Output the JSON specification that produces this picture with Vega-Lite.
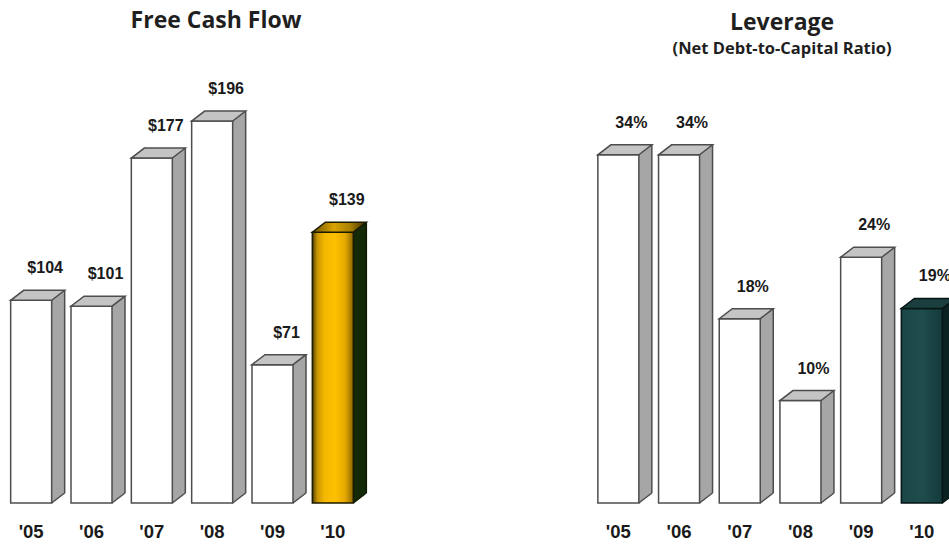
{
  "$schema": "https://vega.github.io/schema/vega-lite/v6.json",
  "background": "#ffffff",
  "padding": {"left": 1, "top": 10, "right": 0, "bottom": 0},
  "spacing": 218,
  "config": {
    "view": {"stroke": null},
    "title": {"font": "Open Sans", "fontWeight": "bold", "fontSize": 23, "color": "#1f1f1f", "anchor": "middle", "subtitleFont": "Open Sans", "subtitleFontWeight": "bold", "subtitleFontSize": 16.5, "subtitleColor": "#1f1f1f"},
    "axis": {"title": null, "domain": false, "ticks": false, "tickSize": 0, "labelPadding": 19, "labelFont": "Liberation Sans", "labelFontSize": 18.5, "labelFontWeight": "bold", "labelColor": "#1a1a1a", "labelAngle": 0}
  },
  "datasets": {
    "fcf": [
      {"year": "'05", "value": 104},
      {"year": "'06", "value": 101},
      {"year": "'07", "value": 177},
      {"year": "'08", "value": 196},
      {"year": "'09", "value": 71},
      {"year": "'10", "value": 139}
    ],
    "lev": [
      {"year": "'05", "value": 0.34},
      {"year": "'06", "value": 0.34},
      {"year": "'07", "value": 0.18},
      {"year": "'08", "value": 0.10},
      {"year": "'09", "value": 0.24},
      {"year": "'10", "value": 0.19}
    ]
  },
  "hconcat": [
    {
      "width": 362,
      "height": 441,
      "title": {"text": "Free Cash Flow", "dx": 34, "offset": 29},
      "data": {"name": "fcf"},
      "encoding": {
        "x": {"field": "year", "type": "ordinal", "sort": null, "scale": {"paddingInner": 0, "paddingOuter": 0}},
        "y": {"field": "value", "type": "quantitative", "scale": {"domain": [0, 226.3], "nice": false}, "axis": null}
      },
      "layer": [
        {
          "mark": {"type": "bar", "width": 13, "xOffset": 27, "yOffset": -10, "y2Offset": -10},
          "encoding": {
            "y2": {"datum": 0},
            "fill": {"condition": {"test": "datum.year == \"'10\"", "value": "#142a07"}, "value": "#a6a6a6"}
          }
        },
        {
          "mark": {"type": "rule", "xOffset": 33.5, "yOffset": -10, "y2Offset": -10, "strokeWidth": 1.5},
          "encoding": {
            "y2": {"datum": 0},
            "stroke": {"condition": {"test": "datum.year == \"'10\"", "value": "#0d1a00"}, "value": "#4d4d4d"}
          }
        },
        {
          "mark": {"type": "point", "shape": "M 20.5 -10 L 33.5 -10 L 20.5 0 Z", "size": 4, "filled": true, "opacity": 1, "strokeWidth": 0},
          "encoding": {
            "y": {"datum": 0},
            "fill": {"condition": {"test": "datum.year == \"'10\"", "value": "#142a07"}, "value": "#a6a6a6"}
          }
        },
        {
          "mark": {"type": "point", "shape": "M 20.5 0 L 33.5 -10", "size": 4, "filled": false, "opacity": 1, "strokeWidth": 1.5},
          "encoding": {
            "y": {"datum": 0},
            "stroke": {"condition": {"test": "datum.year == \"'10\"", "value": "#0d1a00"}, "value": "#4d4d4d"}
          }
        },
        {
          "mark": {"type": "bar", "width": 41, "strokeWidth": 1.5},
          "encoding": {
            "y2": {"datum": 0},
            "fill": {"condition": {"test": "datum.year == \"'10\"", "value": {"gradient": "linear", "x1": 0, "x2": 1, "y1": 0, "y2": 0, "stops": [{"offset": 0, "color": "#4d3d00"}, {"offset": 0.12, "color": "#c89500"}, {"offset": 0.3, "color": "#f5b800"}, {"offset": 0.55, "color": "#ffc000"}, {"offset": 0.8, "color": "#e5a900"}, {"offset": 1, "color": "#8a6800"}]}}, "value": "#ffffff"},
            "stroke": {"condition": {"test": "datum.year == \"'10\"", "value": "#1a1a00"}, "value": "#4d4d4d"}
          }
        },
        {
          "mark": {"type": "point", "shape": "M -20.5 0 L 20.5 0 L 33.5 -10 L -7.5 -10 Z", "size": 4, "filled": true, "opacity": 1, "strokeWidth": 1.5},
          "encoding": {
            "fill": {"condition": {"test": "datum.year == \"'10\"", "value": {"gradient": "linear", "x1": 0, "x2": 1, "y1": 0, "y2": 0, "stops": [{"offset": 0, "color": "#6b5400"}, {"offset": 0.4, "color": "#d9a300"}, {"offset": 0.7, "color": "#a88000"}, {"offset": 1, "color": "#3d3000"}]}}, "value": "#c4c4c4"},
            "stroke": {"condition": {"test": "datum.year == \"'10\"", "value": "#1a1a00"}, "value": "#4d4d4d"}
          }
        },
        {
          "mark": {"type": "text", "dx": 14, "dy": -32, "baseline": "middle", "font": "Liberation Sans", "fontSize": 16, "fontWeight": "bold", "color": "#1a1a1a"},
          "encoding": {
            "text": {"field": "value", "type": "quantitative", "format": "$.0f"}
          }
        }
      ]
    },
    {
      "width": 364.2,
      "height": 441,
      "title": {"text": "Leverage", "subtitle": "(Net Debt-to-Capital Ratio)", "dx": 12, "offset": 5, "subtitlePadding": 6},
      "data": {"name": "lev"},
      "encoding": {
        "x": {"field": "year", "type": "ordinal", "sort": null, "scale": {"paddingInner": 0, "paddingOuter": 0}},
        "y": {"field": "value", "type": "quantitative", "scale": {"domain": [0, 0.4307], "nice": false}, "axis": null}
      },
      "layer": [
        {
          "mark": {"type": "bar", "width": 13, "xOffset": 27, "yOffset": -10, "y2Offset": -10},
          "encoding": {
            "y2": {"datum": 0},
            "fill": {"condition": {"test": "datum.year == \"'10\"", "value": "#0b2222"}, "value": "#a6a6a6"}
          }
        },
        {
          "mark": {"type": "rule", "xOffset": 33.5, "yOffset": -10, "y2Offset": -10, "strokeWidth": 1.5},
          "encoding": {
            "y2": {"datum": 0},
            "stroke": {"condition": {"test": "datum.year == \"'10\"", "value": "#061414"}, "value": "#4d4d4d"}
          }
        },
        {
          "mark": {"type": "point", "shape": "M 20.5 -10 L 33.5 -10 L 20.5 0 Z", "size": 4, "filled": true, "opacity": 1, "strokeWidth": 0},
          "encoding": {
            "y": {"datum": 0},
            "fill": {"condition": {"test": "datum.year == \"'10\"", "value": "#0b2222"}, "value": "#a6a6a6"}
          }
        },
        {
          "mark": {"type": "point", "shape": "M 20.5 0 L 33.5 -10", "size": 4, "filled": false, "opacity": 1, "strokeWidth": 1.5},
          "encoding": {
            "y": {"datum": 0},
            "stroke": {"condition": {"test": "datum.year == \"'10\"", "value": "#061414"}, "value": "#4d4d4d"}
          }
        },
        {
          "mark": {"type": "bar", "width": 41, "strokeWidth": 1.5},
          "encoding": {
            "y2": {"datum": 0},
            "fill": {"condition": {"test": "datum.year == \"'10\"", "value": {"gradient": "linear", "x1": 0, "x2": 1, "y1": 0, "y2": 0, "stops": [{"offset": 0, "color": "#1a4646"}, {"offset": 0.5, "color": "#1f4d4d"}, {"offset": 1, "color": "#143a3a"}]}}, "value": "#ffffff"},
            "stroke": {"condition": {"test": "datum.year == \"'10\"", "value": "#061414"}, "value": "#4d4d4d"}
          }
        },
        {
          "mark": {"type": "point", "shape": "M -20.5 0 L 20.5 0 L 33.5 -10 L -7.5 -10 Z", "size": 4, "filled": true, "opacity": 1, "strokeWidth": 1.5},
          "encoding": {
            "fill": {"condition": {"test": "datum.year == \"'10\"", "value": "#1b3f3f"}, "value": "#c4c4c4"},
            "stroke": {"condition": {"test": "datum.year == \"'10\"", "value": "#061414"}, "value": "#4d4d4d"}
          }
        },
        {
          "mark": {"type": "text", "dx": 13, "dy": -32, "baseline": "middle", "font": "Liberation Sans", "fontSize": 16, "fontWeight": "bold", "color": "#1a1a1a"},
          "encoding": {
            "text": {"field": "value", "type": "quantitative", "format": ".0%"}
          }
        }
      ]
    }
  ]
}
